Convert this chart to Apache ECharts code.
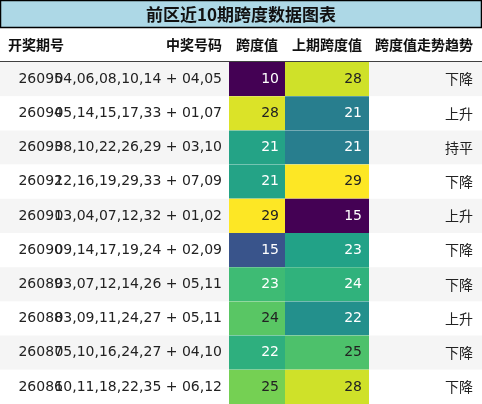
<!DOCTYPE html><html><head><meta charset="utf-8"><script src="https://cdn.jsdelivr.net/npm/echarts@6/dist/echarts.min.js"></script>
<style>body{margin:0}#c{width:482px;height:404px}</style></head><body><div id="c"></div><script>
const issues=['26095','26094','26093','26092','26091','26090','26089','26088','26087','26086'];
const numbers=['04,06,08,10,14 + 04,05','05,14,15,17,33 + 01,07','08,10,22,26,29 + 03,10','12,16,19,29,33 + 07,09','03,04,07,12,32 + 01,02','09,14,17,19,24 + 02,09','03,07,12,14,26 + 05,11','03,09,11,24,27 + 05,11','05,10,16,24,27 + 04,10','10,11,18,22,35 + 06,12'];
const spans=[10,28,21,21,29,15,23,24,22,25];
const prevSpans=[28,21,21,29,15,23,24,22,25,28];
const trends=['下降','上升','持平','下降','上升','下降','下降','上升','下降','下降'];
const headers=['开奖期号','中奖号码','跨度值','上期跨度值','跨度值走势趋势'];
const title='前区近10期跨度数据图表';
const vir=['#440154','#482878','#3e4989','#31688e','#26828e','#1f9e89','#35b779','#6ece58','#b5de2b','#fde725'];
function cmap(v,mn,mx){const t=(v-mn)/(mx-mn);return {c:echarts.color.lerp(t,vir),t:t};}
const edges=[0,70,229,285,369,482];
const ch=echarts.init(document.getElementById('c'));
const F='"Noto Sans CJK SC","DejaVu Sans",sans-serif';
const mn1=Math.min(...spans),mx1=Math.max(...spans),mn2=Math.min(...prevSpans),mx2=Math.max(...prevSpans);
ch.setOption({animation:false,
grid:{left:0,right:0,top:62,bottom:0},
xAxis:{type:'value',min:0,max:482,show:false},
yAxis:{type:'category',data:issues,inverse:true,show:false},
graphic:[
{type:'rect',shape:{x:0.5,y:0.5,width:481,height:27},style:{fill:'#add8e6',stroke:'#000',lineWidth:1.5}},
{type:'text',x:241,y:15,style:{text:title,font:'bold 17px '+F,fill:'#111',align:'center',verticalAlign:'middle'}},
{type:'text',x:8,y:45,style:{text:headers[0],font:'bold 14px '+F,fill:'#111',verticalAlign:'middle'}},
{type:'text',x:222,y:45,style:{text:headers[1],font:'bold 14px '+F,fill:'#111',align:'right',verticalAlign:'middle'}},
{type:'text',x:257,y:45,style:{text:headers[2],font:'bold 14px '+F,fill:'#111',align:'center',verticalAlign:'middle'}},
{type:'text',x:327,y:45,style:{text:headers[3],font:'bold 14px '+F,fill:'#111',align:'center',verticalAlign:'middle'}},
{type:'text',x:473,y:45,style:{text:headers[4],font:'bold 14px '+F,fill:'#111',align:'right',verticalAlign:'middle'}},
{type:'line',shape:{x1:0,y1:62,x2:482,y2:62},style:{stroke:'#000',lineWidth:1.5}}
],
series:[{type:'custom',data:issues.map((d,i)=>[i]),encode:{y:0},renderItem:function(p,api){
const i=api.value(0);const y0=api.coord([0,i])[1];const h=api.size([0,1])[1];const top=y0-h/2;
const a=cmap(spans[i],mn1,mx1),b=cmap(prevSpans[i],mn2,mx2);
const T=(x,s,al,fill)=>({type:'text',style:{x:x,y:y0,text:s,font:'14px "DejaVu Sans",'+F,fill:fill||'#222',align:al,verticalAlign:'middle'}});
return {type:'group',children:[
{type:'rect',shape:{x:0,y:top,width:482,height:h},style:{fill:i%2==0?'#f5f5f5':'#fff'}},
{type:'rect',shape:{x:edges[2],y:top,width:edges[3]-edges[2],height:h},style:{fill:a.c}},
{type:'rect',shape:{x:edges[3],y:top,width:edges[4]-edges[3],height:h},style:{fill:b.c}},
T(63,issues[i],'right'),T(222,numbers[i],'right'),
T(279,String(spans[i]),'right',a.t<0.7?'#fff':'#222'),
T(362,String(prevSpans[i]),'right',b.t<0.7?'#fff':'#222'),
{type:'text',style:{x:473,y:y0,text:trends[i],font:'14px '+F,fill:'#222',align:'right',verticalAlign:'middle'}}
]};}}]});
</script></body></html>
